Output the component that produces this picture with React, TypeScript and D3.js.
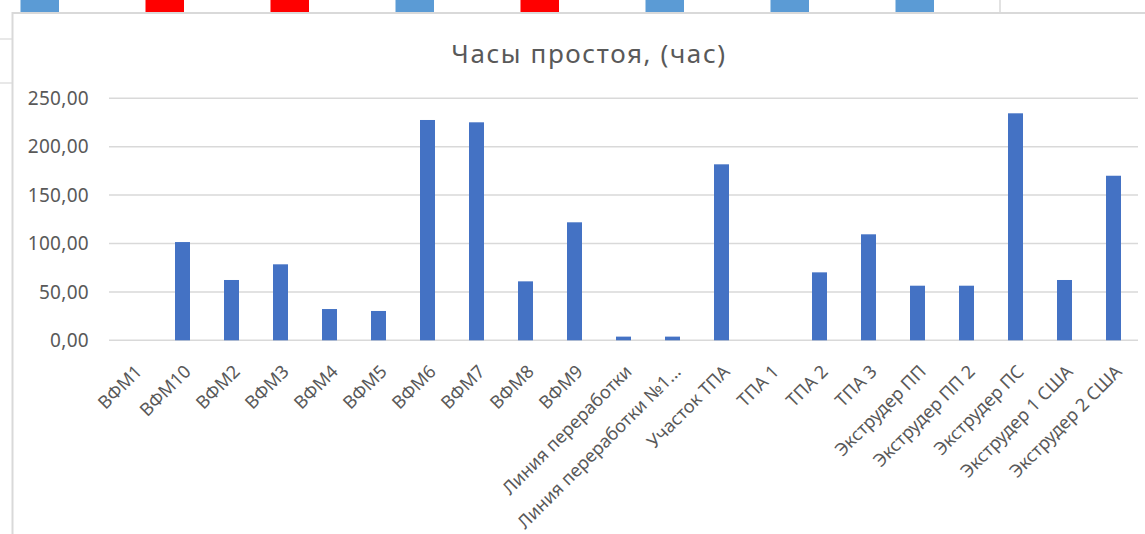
import React from "react";
import * as d3 from "d3";

// Downtime hours per machine / line
const categories: string[] = [
  "ВФМ1",
  "ВФМ10",
  "ВФМ2",
  "ВФМ3",
  "ВФМ4",
  "ВФМ5",
  "ВФМ6",
  "ВФМ7",
  "ВФМ8",
  "ВФМ9",
  "Линия переработки",
  "Линия переработки №1...",
  "Участок ТПА",
  "ТПА 1",
  "ТПА 2",
  "ТПА 3",
  "Экструдер ПП",
  "Экструдер ПП 2",
  "Экструдер ПС",
  "Экструдер 1 США",
  "Экструдер 2 США",
];

const downtimeHours: number[] = [
  0, 101.5, 62.3, 78.5, 32.3, 30.3, 227.6, 225.2, 60.9, 121.9, 3.8, 3.8, 181.8,
  0, 70.2, 109.5, 56.4, 56.4, 234.5, 62.3, 170,
];

const yTicks: number[] = [0, 50, 100, 150, 200, 250];

const chartTitle = "Часы простоя, (час)";

// Fill colours of the spreadsheet cells showing above the chart
const cellFills: string[] = [
  "#5B9BD5",
  "#FF0000",
  "#FF0000",
  "#5B9BD5",
  "#FF0000",
  "#5B9BD5",
  "#5B9BD5",
  "#5B9BD5",
];

const W = 1145;
const H = 534;
const FONT = "'Noto Sans', 'Open Sans', sans-serif";
const TEXT = "#595959";
const GRID = "#d9d9d9";
const BAR = "#4472C4";

const ruLocale = d3.formatLocale({
  decimal: ",",
  thousands: "\u00a0",
  grouping: [3],
  currency: ["", " ₽"],
});
const fmt = ruLocale.format(".2f");

export default function App() {
  const plot = { left: 109, right: 1138, top: 98.3, bottom: 340.3 };

  const x = d3
    .scaleBand<string>()
    .domain(categories)
    .range([plot.left, plot.right])
    .paddingInner(0.694)
    .paddingOuter(0.347);

  const y = d3.scaleLinear().domain([0, 250]).range([plot.bottom, plot.top]);

  return (
    <svg
      width={W}
      height={H}
      viewBox={`0 0 ${W} ${H}`}
      style={{ position: "absolute", left: 0, top: 0, background: "#fff" }}
    >
      {/* spreadsheet strip above the chart */}
      {cellFills.map((c, i) => (
        <rect
          key={`cell-${i}`}
          x={20.5 + i * 125}
          y={0}
          width={38.5}
          height={12}
          fill={c}
        />
      ))}
      <line x1={1000} x2={1000} y1={0} y2={13} stroke={GRID} strokeWidth={1.5} />
      <line x1={0} x2={12} y1={39} y2={39} stroke={GRID} strokeWidth={1.2} />
      <line x1={0} x2={12} y1={83} y2={83} stroke={GRID} strokeWidth={1.2} />

      {/* chart area frame */}
      <rect x={12.5} y={13} width={W} height={H} fill="#fff" stroke={GRID} strokeWidth={2} />

      <text
        x={589}
        y={62.5}
        textAnchor="middle"
        fontFamily={FONT}
        fontSize={26}
        letterSpacing={1.6}
        fill={TEXT}
      >
        {chartTitle}
      </text>

      {/* gridlines + y tick labels */}
      {yTicks.map((t) => (
        <g key={`yt-${t}`}>
          <line
            x1={plot.left}
            x2={plot.right}
            y1={y(t)}
            y2={y(t)}
            stroke={GRID}
            strokeWidth={1.5}
          />
          <text
            x={89}
            y={y(t)}
            dy="0.35em"
            textAnchor="end"
            fontFamily={FONT}
            fontSize={19}
            letterSpacing={0.3}
            fill={TEXT}
          >
            {fmt(t)}
          </text>
        </g>
      ))}

      {/* bars */}
      {categories.map((c, i) => (
        <rect
          key={`bar-${c}`}
          x={x(c)}
          y={y(downtimeHours[i])}
          width={x.bandwidth()}
          height={plot.bottom - y(downtimeHours[i])}
          fill={BAR}
        />
      ))}

      {/* rotated category labels */}
      {categories.map((c) => {
        const cx = (x(c) as number) + x.bandwidth() / 2;
        return (
          <text
            key={`xl-${c}`}
            transform={`translate(${cx + 5},${plot.bottom + 28}) rotate(-45)`}
            dy="0.35em"
            textAnchor="end"
            fontFamily={FONT}
            fontSize={18}
            fill={TEXT}
          >
            {c}
          </text>
        );
      })}
    </svg>
  );
}
